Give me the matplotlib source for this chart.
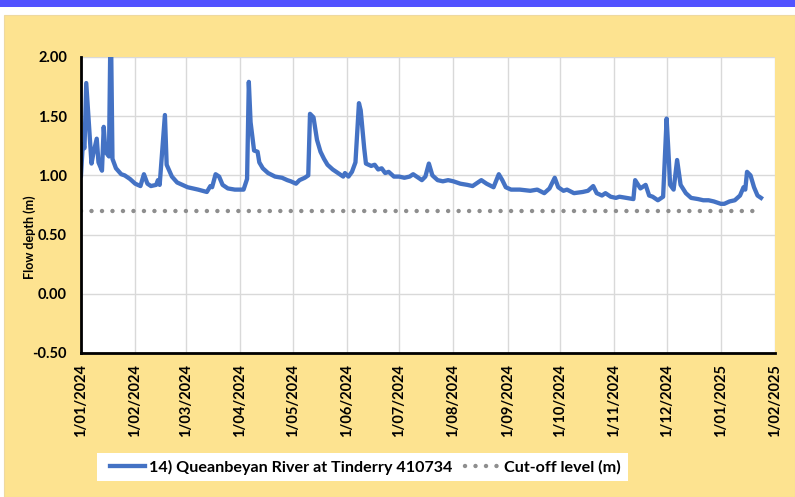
import numpy as np
import matplotlib
matplotlib.use("Agg")
import matplotlib.pyplot as plt
import matplotlib.dates as mdates
from matplotlib.patches import Rectangle
from matplotlib.ticker import FuncFormatter, MultipleLocator

# ---- data ----
start_date = "2024-01-01"
day_offset = [0, 1, 2, 3, 6, 7, 9, 10, 12, 13, 14, 16, 17, 18, 20, 23, 25, 28, 31, 34,
              36, 38, 40, 43, 44, 45, 48, 49, 52, 55, 61, 67, 72, 74, 75, 77, 79, 81, 84, 88,
              93, 95, 96, 97, 99, 101, 102, 104, 107, 111, 115, 118, 120, 123, 125, 128, 130, 131, 133, 135,
              137, 139, 141, 144, 148, 150, 151, 153, 155, 157, 159, 160, 162, 163, 166, 168, 170, 172, 174, 176,
              179, 182, 185, 188, 190, 192, 195, 197, 199, 201, 204, 207, 210, 213, 217, 221, 224, 226, 229, 232,
              236, 239, 241, 243, 246, 251, 257, 261, 265, 268, 271, 273, 276, 278, 282, 287, 290, 293, 295, 298,
              300, 303, 306, 308, 312, 316, 317, 320, 323, 325, 327, 330, 333, 335, 336, 337, 339, 341, 343, 346,
              349, 353, 356, 359, 362, 366, 368, 371, 374, 377, 379, 380, 381, 383, 385, 387, 389]
flow_depth = [1.00, 1.26, 1.23, 1.78, 1.10, 1.18, 1.31, 1.11, 1.04, 1.41, 1.20, 1.16, 2.40, 1.14, 1.06, 1.01, 1.00, 0.97, 0.93, 0.91,
              1.01, 0.93, 0.91, 0.92, 0.96, 0.92, 1.51, 1.09, 0.99, 0.94, 0.90, 0.88, 0.86, 0.91, 0.90, 1.01, 0.99, 0.92, 0.89, 0.88,
              0.88, 0.97, 1.79, 1.45, 1.21, 1.20, 1.11, 1.06, 1.02, 0.99, 0.98, 0.96, 0.95, 0.93, 0.96, 0.98, 1.00, 1.52, 1.49, 1.30,
              1.20, 1.14, 1.09, 1.05, 1.01, 0.99, 1.02, 0.99, 1.03, 1.11, 1.61, 1.55, 1.23, 1.10, 1.08, 1.09, 1.05, 1.06, 1.02, 1.03,
              0.99, 0.99, 0.98, 0.99, 1.01, 0.99, 0.96, 0.99, 1.10, 1.00, 0.96, 0.95, 0.96, 0.95, 0.93, 0.92, 0.91, 0.93, 0.96, 0.93,
              0.90, 1.01, 0.96, 0.90, 0.88, 0.88, 0.87, 0.88, 0.85, 0.89, 0.98, 0.90, 0.87, 0.88, 0.85, 0.86, 0.87, 0.91, 0.85, 0.83,
              0.85, 0.82, 0.81, 0.82, 0.81, 0.80, 0.96, 0.89, 0.92, 0.83, 0.82, 0.79, 0.82, 1.48, 1.21, 0.92, 0.88, 1.13, 0.92, 0.85,
              0.81, 0.80, 0.79, 0.79, 0.78, 0.76, 0.76, 0.78, 0.79, 0.83, 0.90, 0.88, 1.03, 1.00, 0.90, 0.83, 0.81]
cutoff_level = 0.70
series_label = "14) Queanbeyan River at Tinderry 410734"
cutoff_label = "Cut-off level (m)"
y_label = "Flow depth (m)"
x_start, x_end = "2024-01-01", "2025-02-01"

dates = np.datetime64(start_date) + np.array(day_offset).astype("timedelta64[D]")

# ---- style ----
plt.rcParams['font.family'] = ['Lato', 'DejaVu Sans']
plt.rcParams['font.weight'] = 'bold'
W, H = 795, 497
fig = plt.figure(figsize=(W / 100, H / 100), dpi=100)
fig.patch.set_facecolor("white")
# top blue banner and yellow panel
fig.add_artist(Rectangle((0, 1 - 7 / H), 1, 7 / H, transform=fig.transFigure,
                         facecolor="#5252FF", edgecolor="none", zorder=-10))
fig.add_artist(Rectangle((4 / W, 0), 1 - 4 / W, 1 - 15 / H, transform=fig.transFigure,
                         facecolor="#FDE390", edgecolor="#EED9A0", lw=0.8, zorder=-10))
# legend white box
fig.add_artist(Rectangle((97 / W, 1 - 481 / H), (628 - 97) / W, 28 / H, transform=fig.transFigure,
                         facecolor="white", edgecolor="none", zorder=-5))

ax = fig.add_axes([81 / W, 1 - 353 / H, 694 / W, 296 / H])
ax.set_facecolor("white")

ax.plot(dates, flow_depth, color="#4472C4", lw=3.1, solid_joinstyle="round",
        label=series_label, zorder=3, clip_on=True)
ax.plot([dates[0], dates[-1]], [cutoff_level, cutoff_level], color="#8E8E8E", lw=3.2,
        linestyle=(0, (0.01, 2.35)), dash_capstyle="round", label=cutoff_label, zorder=2)

ax.set_ylim(-0.5, 2.0)
ax.set_xlim(np.datetime64(x_start), np.datetime64(x_end))
ax.yaxis.set_major_locator(MultipleLocator(0.5))
ax.yaxis.set_major_formatter(FuncFormatter(lambda v, p: f"{v:.2f}"))
ax.xaxis.set_major_locator(mdates.MonthLocator())
ax.xaxis.set_major_formatter(FuncFormatter(
    lambda v, p: (lambda d: f"{d.day}/{d.month:02d}/{d.year}")(mdates.num2date(v))))

ax.grid(True, color="#D9D9D9", lw=1.0, zorder=0)
ax.set_axisbelow(True)
for s in ["top", "right"]:
    ax.spines[s].set_visible(False)
for s in ["left", "bottom"]:
    ax.spines[s].set_color("black")
    ax.spines[s].set_linewidth(2.0)
    ax.spines[s].set_zorder(4)

ax.tick_params(axis="y", length=0, pad=10, labelsize=10.5)
ax.tick_params(axis="x", length=0, pad=8, labelsize=10.5, labelrotation=90)
for lbl in ax.get_xticklabels() + ax.get_yticklabels():
    lbl.set_fontweight("bold")

fig.text(30 / W, 1 - 237 / H, y_label, rotation=90, ha="center", va="center",
         fontsize=9, fontweight="bold")

leg = fig.legend(loc="center left", bbox_to_anchor=(110 / W, 1 - 467 / H),
                 ncol=2, frameon=False, prop={"size": 11.6, "weight": "bold"},
                 handlelength=2.2, handletextpad=0.2, columnspacing=0.8,
                 borderpad=0.0, borderaxespad=0.0)

fig.savefig("out.png", dpi=100, facecolor=fig.get_facecolor())
